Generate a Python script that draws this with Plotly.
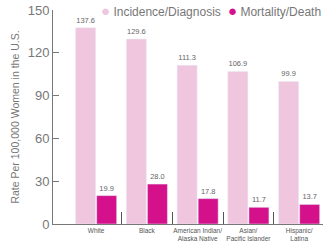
import plotly.graph_objects as go

categories = ["White", "Black", "American Indian/<br>Alaska Native", "Asian/<br>Pacific Islander", "Hispanic/<br>Latina"]
incidence = [137.6, 129.6, 111.3, 106.9, 99.9]
mortality = [19.9, 28.0, 17.8, 11.7, 13.7]
series_names = ["Incidence/Diagnosis", "Mortality/Death"]
y_ticks = [0, 30, 60, 90, 120, 150]

C_INC = "#EFC6DD"
C_MORT = "#D4118B"
NARROW = "Liberation Sans Narrow, Arial Narrow, sans-serif"
x = list(range(len(categories)))

fig = go.Figure()
for vals, col, name in [(incidence, C_INC, series_names[0]), (mortality, C_MORT, series_names[1])]:
    fig.add_trace(go.Bar(x=x, y=vals, marker_color=col, name=name, showlegend=False,
                         text=[f"{v:.1f}" for v in vals], textposition="outside",
                         textfont=dict(size=7.5, color="#666", family=NARROW),
                         cliponaxis=False))

xr = [-0.85, 4.47]
fig.update_layout(
    width=323, height=241,
    margin=dict(l=53, r=0, t=10, b=17),
    plot_bgcolor="white", paper_bgcolor="white",
    barmode="group", bargap=0.17, bargroupgap=0.05,
    font=dict(family="Liberation Sans, Arial, sans-serif", color="#777"),
    showlegend=False,
    xaxis=dict(range=xr, tickvals=x, ticktext=categories, ticks="", tickangle=0,
               automargin=False,
               tickfont=dict(size=6.5, color="#555", family=NARROW), showline=True,
               linecolor="#777", linewidth=1, showgrid=False, zeroline=False),
    xaxis2=dict(range=xr, overlaying="x", anchor="y", side="bottom",
                tickvals=[i + 0.5 for i in x[:-1]], ticks="inside", ticklen=12,
                tickcolor="#555", tickwidth=1.2, showticklabels=False,
                showgrid=False, zeroline=False, showline=False),
    yaxis=dict(range=[0, 150], tickvals=y_ticks, ticks="inside", ticklen=6,
               tickcolor="#777", showline=True, linecolor="#777", linewidth=1,
               automargin=False,
               showgrid=False, zeroline=False, tickfont=dict(size=13, color="#777"),
               title=dict(text="Rate Per 100,000 Women in the U.S.",
                          font=dict(size=10.5, color="#777"), standoff=6)),
)
fig.add_trace(go.Scatter(x=[None], y=[None], xaxis="x2", showlegend=False))

# legend built from annotations (circle marker + label)
legend_pos = [0.63, 1.0]
for name, col, xp in zip(series_names, [C_INC, C_MORT], legend_pos):
    fig.add_annotation(xref="paper", yref="paper", x=xp, y=1.0, xanchor="right",
                       yanchor="middle", showarrow=False,
                       text=f"<span style='color:{col};font-size:15px'>●</span> {name}",
                       font=dict(size=12, color="#777"))
fig.write_html("out.html", config={"displayModeBar": False},
               post_script="document.body.style.margin='0';")
